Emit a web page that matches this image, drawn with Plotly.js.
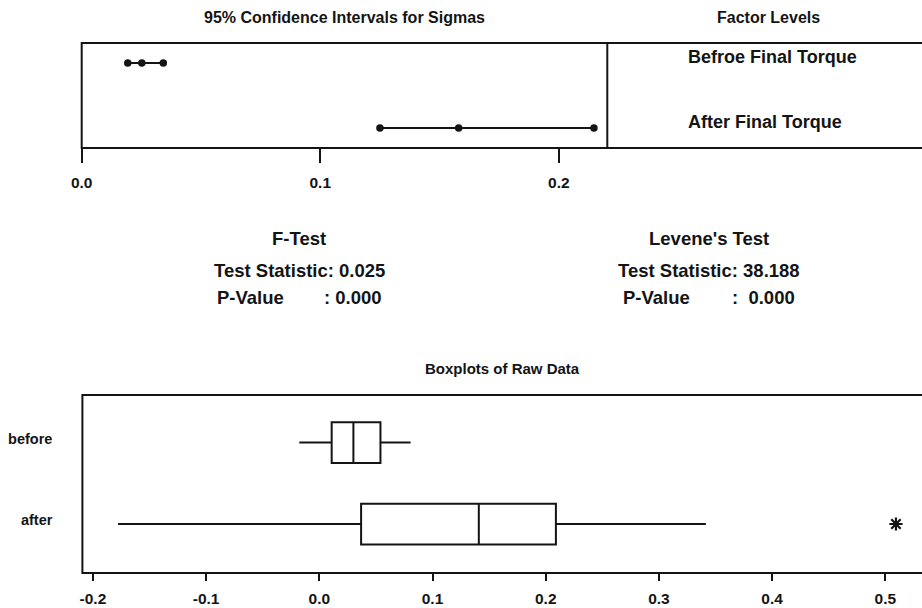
<!DOCTYPE html>
<html>
<head>
<meta charset="utf-8">
<script src="https://cdn.plot.ly/plotly-3.0.1.min.js"></script>
<style>
html,body{margin:0;padding:0;background:#fff;}
#chart{width:922px;height:608px;}
</style>
</head>
<body>
<div id="chart"></div>
<script>
// ---- Data: 95% confidence intervals for sigmas ----
const factorLevels = ["Befroe Final Torque", "After Final Torque"];
const sigmaLower = [0.0193, 0.125];
const sigmaEstimate = [0.0252, 0.158];
const sigmaUpper = [0.0342, 0.2147];
const sigmaTickVals = [0.0, 0.1, 0.2];
const sigmaTickText = ["0.0", "0.1", "0.2"];

// ---- Test results ----
const testNames = ["F-Test", "Levene's Test"];
const testStatistics = ["0.025", "38.188"];
const testPValues = ["0.000", "0.000"];

// ---- Boxplots of raw data ----
const boxGroups = ["before", "after"];
const boxLowerFence = [-0.0177, -0.1778];
const boxQ1 = [0.0109, 0.0369];
const boxMedian = [0.0301, 0.1409];
const boxQ3 = [0.054, 0.209];
const boxUpperFence = [0.0806, 0.3415];
const outlierGroups = ["after"];
const outlierValues = [0.5094];
const rawTickVals = [-0.2, -0.1, 0.0, 0.1, 0.2, 0.3, 0.4, 0.5];
const rawTickText = ["-0.2", "-0.1", "0.0", "0.1", "0.2", "0.3", "0.4", "0.5"];

// ---- layout helpers (pixel -> paper) ----
const W = 922, H = 608;
const px = v => v / W;
const py = v => 1 - v / H;
const FONT = "Liberation Sans, Arial, sans-serif";
const INK = "#141414";

const traces = [];
factorLevels.forEach((lvl, i) => {
  traces.push({
    type: "scatter", mode: "lines+markers",
    x: [sigmaLower[i], sigmaEstimate[i], sigmaUpper[i]],
    y: [lvl, lvl, lvl],
    xaxis: "x", yaxis: "y",
    line: {color: INK, width: 2},
    marker: {color: INK, size: 7.5, symbol: "circle"},
    showlegend: false, hoverinfo: "skip"
  });
});
traces.push({
  type: "box", orientation: "h",
  y: boxGroups,
  q1: boxQ1, median: boxMedian, q3: boxQ3,
  lowerfence: boxLowerFence, upperfence: boxUpperFence,
  xaxis: "x2", yaxis: "y2",
  width: 0.5, whiskerwidth: 0,
  fillcolor: "rgba(0,0,0,0)",
  line: {color: INK, width: 2},
  boxpoints: false, showlegend: false, hoverinfo: "skip"
});
traces.push({
  type: "scatter", mode: "markers",
  x: outlierValues, y: outlierGroups,
  xaxis: "x2", yaxis: "y2",
  marker: {symbol: "asterisk-open", size: 11, color: INK, line: {color: INK, width: 2.2}},
  showlegend: false, hoverinfo: "skip"
});

const annotations = [];
const addText = (text, x, y, size, xanchor, xref, yref, yshift) => annotations.push({
  text: "<b>" + text + "</b>", x, y, xref: xref || "paper", yref: yref || "paper",
  xanchor: xanchor || "center", yanchor: "middle", showarrow: false,
  yshift: yshift || 0,
  font: {family: FONT, size, color: INK}
});

addText("95% Confidence Intervals for Sigmas", 0.5, py(17), 16, "center", "x domain");
addText("Factor Levels", px(768), py(17), 16);
factorLevels.forEach(lvl => addText(lvl, px(686), lvl, 18, "left", "paper", "y", 6));

const testCenters = [299, 709];
const pColon = [322, 730];
const pLabelX = [215, 621];
testNames.forEach((name, i) => {
  addText(name, px(testCenters[i]), py(238), 18.5);
  addText("Test Statistic: " + testStatistics[i], px(testCenters[i]), py(270), 18.5);
  addText("P-Value", px(pLabelX[i]), py(298), 18.5, "left");
  addText(":" + (i === 1 ? "\u00a0\u00a0" : "\u00a0") + testPValues[i], px(pColon[i]), py(298), 18.5, "left");
});
addText("Boxplots of Raw Data", 0.5, py(368), 15, "center", "x2 domain");

const shapes = [
  // frame around the interval plot and the factor level panel
  {type: "rect", xref: "x domain", yref: "y domain", x0: 0, x1: 2, y0: 0, y1: 1,
   line: {color: INK, width: 2}, fillcolor: "rgba(0,0,0,0)"},
  {type: "line", xref: "x domain", yref: "y domain", x0: 1, x1: 1, y0: 0, y1: 1,
   line: {color: INK, width: 2}},
  // frame around boxplots (open on the right)
  {type: "rect", xref: "x2 domain", yref: "y2 domain", x0: 0, x1: 1.02, y0: 0, y1: 1,
   line: {color: INK, width: 2}, fillcolor: "rgba(0,0,0,0)"}
];

const layout = {
  width: W, height: H,
  margin: {l: 0, r: 0, t: 0, b: 0},
  paper_bgcolor: "#fff", plot_bgcolor: "#fff",
  showlegend: false,
  font: {family: FONT, color: INK},
  xaxis: {
    domain: [px(81.7), px(607.3)], range: [0, 0.2203],
    tickvals: sigmaTickVals, ticktext: sigmaTickText.map(t => "<b>" + t + "</b>"),
    ticks: "outside", ticklen: 14, tickwidth: 2, tickcolor: INK,
    tickfont: {family: FONT, size: 15.5, color: INK},
    ticklabelstandoff: 6,
    showgrid: false, zeroline: false, showline: false, automargin: false, fixedrange: true
  },
  yaxis: {
    domain: [py(148), py(43)], type: "category",
    categoryorder: "array", categoryarray: factorLevels.slice().reverse(),
    range: [-0.3077, 1.3077],
    showticklabels: false, ticks: "", showgrid: false, zeroline: false, showline: false,
    automargin: false, fixedrange: true
  },
  xaxis2: {
    domain: [px(82.4), 1], range: [-0.2093, 0.5324], anchor: "y2",
    tickvals: rawTickVals, ticktext: rawTickText.map(t => "<b>" + t + "</b>"),
    ticks: "outside", ticklen: 7, tickwidth: 2, tickcolor: INK,
    tickfont: {family: FONT, size: 15.5, color: INK},
    ticklabelstandoff: 4,
    showgrid: false, zeroline: false, showline: false, automargin: false, fixedrange: true
  },
  yaxis2: {
    domain: [py(573), py(395)], anchor: "x2", type: "category",
    categoryorder: "array", categoryarray: boxGroups.slice().reverse(),
    range: [-0.601, 1.583],
    ticks: "", ticklabelstandoff: 29, ticklabelshift: -4,
    tickvals: boxGroups, ticktext: boxGroups.map(t => "<b>" + t + "</b>"),
    tickfont: {family: FONT, size: 14.5, color: INK},
    showgrid: false, zeroline: false, showline: false, automargin: false, fixedrange: true
  },
  shapes, annotations
};

Plotly.newPlot("chart", traces, layout, {staticPlot: true, displayModeBar: false});
</script>
</body>
</html>
